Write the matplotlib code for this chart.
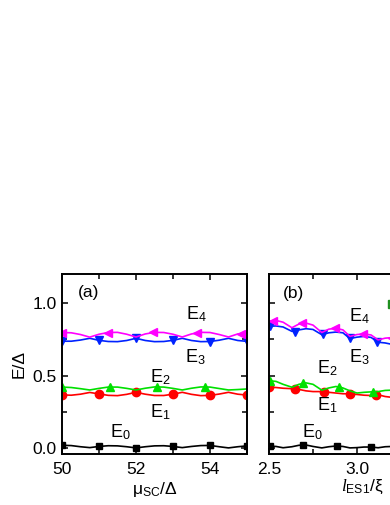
import matplotlib
matplotlib.use("Agg")
import matplotlib.pyplot as plt
from matplotlib.ticker import MultipleLocator

plt.rcParams['font.family'] = 'Liberation Sans'
plt.rcParams['font.size'] = 12
plt.rcParams['mathtext.fontset'] = 'custom'
plt.rcParams['mathtext.rm'] = 'Liberation Sans'
plt.rcParams['mathtext.it'] = 'Liberation Serif:italic'

# ---- panel (a): E vs mu_SC/Delta ----
mu_line = [50.0, 50.25, 50.5, 50.75, 51.0, 51.25, 51.5, 51.75, 52.0, 52.25, 52.5,
           52.75, 53.0, 53.25, 53.5, 53.75, 54.0, 54.25, 54.5, 54.75, 55.0]
e4_a = [0.797, 0.795, 0.783, 0.765, 0.785, 0.797, 0.798, 0.785, 0.766, 0.787, 0.798,
        0.797, 0.785, 0.766, 0.787, 0.798, 0.797, 0.783, 0.766, 0.787, 0.795]
e3_a = [0.737, 0.737, 0.745, 0.757, 0.743, 0.735, 0.734, 0.742, 0.757, 0.742, 0.734,
        0.735, 0.743, 0.757, 0.742, 0.734, 0.735, 0.744, 0.757, 0.742, 0.736]
e2_a = [0.421, 0.418, 0.410, 0.401, 0.412, 0.421, 0.421, 0.412, 0.401, 0.413, 0.422,
        0.421, 0.412, 0.401, 0.413, 0.422, 0.421, 0.411, 0.401, 0.404, 0.408]
e1_a = [0.367, 0.365, 0.372, 0.384, 0.374, 0.364, 0.362, 0.371, 0.385, 0.372, 0.363,
        0.363, 0.372, 0.385, 0.371, 0.362, 0.364, 0.373, 0.385, 0.372, 0.366]
e0_a = [0.020, 0.018, 0.010, 0.004, 0.012, 0.017, 0.016, 0.010, 0.002, 0.010, 0.016,
        0.017, 0.012, 0.004, 0.012, 0.018, 0.019, 0.010, 0.002, 0.010, 0.016]

e4_a_mx = [50.0, 51.25, 52.45, 53.65, 54.85]
e4_a_my = [0.797, 0.797, 0.798, 0.797, 0.790]
e3_a_mx = [50, 51, 52, 53, 54, 55]
e3_a_my = [0.737, 0.743, 0.757, 0.743, 0.735, 0.736]
e2_a_mx = [50.0, 51.3, 52.58, 53.86]
e2_a_my = [0.421, 0.421, 0.422, 0.422]
e1_a_mx = [50, 51, 52, 53, 54, 55]
e1_a_my = [0.367, 0.374, 0.385, 0.372, 0.364, 0.366]
e0_a_mx = [50, 51, 52, 53, 54, 55]
e0_a_my = [0.020, 0.012, 0.002, 0.012, 0.019, 0.016]

# ---- panel (b): E vs l_ES1/xi ----
l_line = [2.50, 2.54, 2.58, 2.63, 2.67, 2.71, 2.75, 2.80, 2.84, 2.88,
          2.92, 2.96, 3.00, 3.04, 3.08, 3.12, 3.16, 3.20, 3.24]
e4_b = [0.875, 0.880, 0.868, 0.830, 0.855, 0.862, 0.848, 0.797, 0.820, 0.826,
        0.815, 0.770, 0.783, 0.787, 0.780, 0.746, 0.758, 0.762, 0.755]
e3_b = [0.840, 0.842, 0.835, 0.805, 0.815, 0.823, 0.818, 0.782, 0.795, 0.800,
        0.795, 0.755, 0.765, 0.770, 0.763, 0.730, 0.725, 0.715, 0.705]
e2_b = [0.465, 0.460, 0.440, 0.420, 0.440, 0.450, 0.440, 0.400, 0.415, 0.425,
        0.415, 0.395, 0.380, 0.385, 0.388, 0.390, 0.398, 0.400, 0.400]
e1_b = [0.420, 0.418, 0.413, 0.410, 0.405, 0.395, 0.390, 0.390, 0.385, 0.380,
        0.375, 0.375, 0.370, 0.365, 0.363, 0.368, 0.356, 0.350, 0.345]
e0_b = [0.014, 0.012, 0.003, 0.010, 0.020, 0.022, 0.012, 0.002, 0.010, 0.015,
        0.012, 0.002, 0.004, 0.008, 0.008, 0.003, 0.010, 0.012, 0.010]

e4_b_mx = [2.52, 2.69, 2.875, 3.035, 3.20]
e4_b_my = [0.877, 0.860, 0.825, 0.786, 0.762]
e3_b_mx = [2.505, 2.645, 2.805, 2.96, 3.115]
e3_b_my = [0.840, 0.803, 0.785, 0.757, 0.730]
e2_b_mx = [2.505, 2.695, 2.90, 3.09]
e2_b_my = [0.460, 0.450, 0.420, 0.388]
e1_b_mx = [2.50, 2.65, 2.81, 2.96, 3.11]
e1_b_my = [0.420, 0.410, 0.390, 0.375, 0.368]
e0_b_mx = [2.505, 2.695, 2.885, 3.08]
e0_b_my = [0.014, 0.023, 0.014, 0.007]

level_names = ["E$_0$", "E$_1$", "E$_2$", "E$_3$", "E$_4$"]
colors = ["black", "#ff0000", "#00e000", "#0022ff", "#ff00ff"]
markers = ["s", "o", "^", "v", "<"]

W, H = 390, 505
fig = plt.figure(figsize=(W / 100, H / 100), dpi=100)
ax_a = fig.add_axes([62 / W, (H - 454) / H, 185 / W, 180 / H])
ax_b = fig.add_axes([269 / W, (H - 454) / H, 176 / W, 180 / H])


def draw(ax, xl, lines, mks):
    for i, (yl, (mx, my)) in enumerate(zip(lines, mks)):
        ax.plot(xl, yl, color=colors[i], lw=1.2)
        ax.plot(mx, my, ls="none", marker=markers[i], color=colors[i],
                ms=6 if i else 5)


draw(ax_a, mu_line, [e0_a, e1_a, e2_a, e3_a, e4_a],
     [(e0_a_mx, e0_a_my), (e1_a_mx, e1_a_my), (e2_a_mx, e2_a_my),
      (e3_a_mx, e3_a_my), (e4_a_mx, e4_a_my)])
draw(ax_b, l_line, [e0_b, e1_b, e2_b, e3_b, e4_b],
     [(e0_b_mx, e0_b_my), (e1_b_mx, e1_b_my), (e2_b_mx, e2_b_my),
      (e3_b_mx, e3_b_my), (e4_b_mx, e4_b_my)])

# stray dark-green symbol at the cut-off right edge
ax_b.plot([3.198], [0.99], ls="none", marker="s", color="#1f8f1f", ms=6)

ax_a.set_xlim(50, 55)
ax_b.set_xlim(2.5, 3.5)
for ax in (ax_a, ax_b):
    ax.set_ylim(-0.04, 1.2)
    ax.yaxis.set_major_locator(MultipleLocator(0.5))
    ax.yaxis.set_minor_locator(MultipleLocator(0.25))
    ax.tick_params(which="both", direction="in", top=True, right=True,
                   width=1.1, labelsize=12.5)
    ax.tick_params(which="major", length=4.5, pad=6)
    ax.tick_params(which="minor", length=3.5)
    ax.tick_params(axis="y", which="major", pad=4)
    for sp in ax.spines.values():
        sp.set_linewidth(1.4)

ax_a.xaxis.set_major_locator(MultipleLocator(2))
ax_a.xaxis.set_minor_locator(MultipleLocator(1))
ax_a.set_yticks([0.0, 0.5, 1.0])
ax_a.set_yticklabels(["0.0", "0.5", "1.0"])
ax_b.set_xticks([2.5, 3.0])
ax_b.set_xticklabels(["2.5", "3.0"])
ax_b.set_xticks([2.75, 3.25], minor=True)
ax_b.tick_params(labelleft=False)

ax_a.set_ylabel("E/Δ", fontsize=12.5, labelpad=4)
ax_a.set_xlabel("μ$_{\\mathrm{SC}}$/Δ", fontsize=12.5, labelpad=2)
ax_b.set_xlabel(r"$\mathit{l}_{\mathrm{ES1}}/\mathrm{\xi}$", fontsize=12.5, labelpad=2)
ax_b.xaxis.set_label_coords(0.53, -0.13)

ax_a.text(50.43, 1.07, "(a)", va="center", fontsize=12.5)
ax_b.text(2.576, 1.067, "(b)", va="center", fontsize=12.5)

label_pos_a = [(51.31, 0.078), (52.38, 0.216), (52.38, 0.457), (53.33, 0.595), (53.35, 0.89)]
label_pos_b = [(2.69, 0.078), (2.775, 0.262), (2.775, 0.515), (2.955, 0.595), (2.955, 0.876)]
for name, (xa, ya), (xb, yb) in zip(level_names, label_pos_a, label_pos_b):
    ax_a.text(xa, ya, name, va="baseline", ha="left", fontsize=13)
    ax_b.text(xb, yb, name, va="baseline", ha="left", fontsize=13)

fig.savefig("out.png", dpi=100)
